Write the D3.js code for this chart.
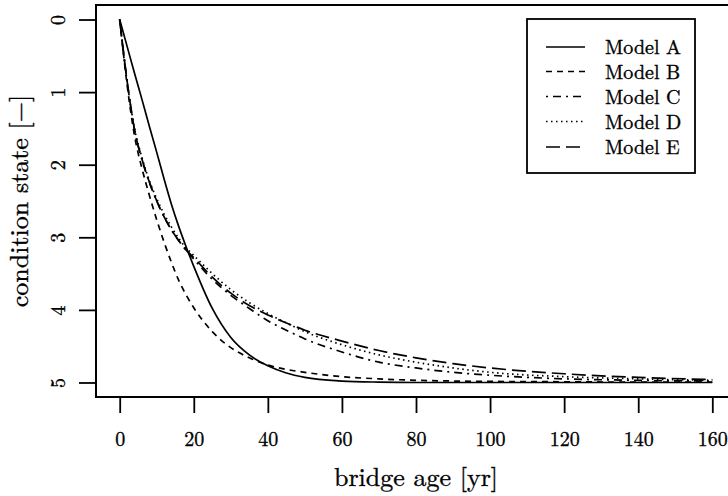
<!DOCTYPE html>
<html>
<head>
<meta charset="utf-8">
<script src="https://cdn.jsdelivr.net/npm/d3@7"></script>
<style>
  html, body { margin: 0; padding: 0; background: #fff; }
  svg { display: block; }
</style>
</head>
<body>
<svg id="chart" width="728" height="496" style="font-family: 'Latin Modern Roman', 'Liberation Serif', serif;"></svg>
<script>
// ---- data ----
const ages = [0, 2, 4, 6, 8, 10, 12, 14, 16, 18, 20, 25, 30, 35, 40, 45, 50, 60, 70, 80, 90, 100, 120, 140, 160];
const modelA = [0, 0.37, 0.74, 1.10, 1.47, 1.83, 2.20, 2.55, 2.86, 3.14, 3.40, 3.98, 4.38, 4.62, 4.77, 4.87, 4.93, 4.98, 4.995, 5.0, 5.0, 5.0, 5.0, 5.0, 5.0];
const modelB = [0, 0.90, 1.60, 2.05, 2.42, 2.76, 3.07, 3.35, 3.60, 3.80, 3.97, 4.30, 4.52, 4.66, 4.76, 4.82, 4.86, 4.92, 4.95, 4.97, 4.98, 4.985, 4.99, 4.995, 4.995];
const modelC = [0, 0.85, 1.52, 1.93, 2.24, 2.50, 2.72, 2.90, 3.05, 3.18, 3.30, 3.58, 3.80, 3.98, 4.15, 4.28, 4.40, 4.58, 4.72, 4.80, 4.86, 4.90, 4.95, 4.97, 4.98];
const modelD = [0, 0.85, 1.50, 1.90, 2.22, 2.47, 2.68, 2.86, 3.02, 3.15, 3.25, 3.50, 3.72, 3.90, 4.05, 4.18, 4.30, 4.48, 4.62, 4.72, 4.80, 4.86, 4.92, 4.95, 4.97];
const modelE = [0, 0.85, 1.52, 1.92, 2.24, 2.50, 2.72, 2.90, 3.05, 3.18, 3.28, 3.55, 3.77, 3.94, 4.07, 4.18, 4.28, 4.43, 4.56, 4.66, 4.74, 4.80, 4.88, 4.93, 4.96];
const seriesNames = ["Model A", "Model B", "Model C", "Model D", "Model E"];
const xTicks = [0, 20, 40, 60, 80, 100, 120, 140, 160];
const yTicks = [0, 1, 2, 3, 4, 5];
const xLabel = "bridge age [yr]";
const yLabel = "condition state [\u2212]";

// ---- styles ----
const FONT = "'Latin Modern Roman', 'Liberation Serif', serif";
const dashes = [null, "6,5", "2,5,8,5", "1.5,3.5", "14,6"];
const series = [modelA, modelB, modelC, modelD, modelE].map((vals, i) => ({
  name: seriesNames[i], dash: dashes[i],
  points: ages.map((a, j) => [a, vals[j]])
}));

const svg = d3.select("#chart");
const pL = 96, pR = 736, pT = 5, pB = 397;
const x = d3.scaleLinear().domain([-6.4, 166.4]).range([pL, pR]);
const y = d3.scaleLinear().domain([-0.2, 5.2]).range([pT, pB]);

function styleText(sel, size) {
  sel.style("font-size", size + "px").style("font-family", FONT)
    .attr("fill", "#000").attr("stroke", "#000").attr("stroke-width", 0.35);
}

// curves
const line = d3.line().x(d => x(d[0])).y(d => y(d[1])).curve(d3.curveMonotoneX);
svg.append("g").selectAll("path").data(series).join("path")
  .attr("d", d => line(d.points))
  .attr("fill", "none").attr("stroke", "#000").attr("stroke-width", 1.7)
  .attr("stroke-dasharray", d => d.dash);

// box
svg.append("rect").attr("x", pL).attr("y", pT)
  .attr("width", pR - pL).attr("height", pB - pT)
  .attr("fill", "none").attr("stroke", "#000").attr("stroke-width", 2);

// x axis
const gx = svg.append("g").attr("transform", `translate(0,${pB})`)
  .call(d3.axisBottom(x).tickValues(xTicks).tickSize(16).tickFormat(d3.format("d")));
gx.attr("font-family", null);
gx.select(".domain").remove();
gx.selectAll(".tick line").attr("stroke-width", 1.8);
gx.selectAll(".tick text").attr("y", 49).attr("dy", null).call(styleText, 20);

// y axis
const gy = svg.append("g").attr("transform", `translate(${pL},0)`)
  .call(d3.axisLeft(y).tickValues(yTicks).tickSize(17).tickFormat(d3.format("d")));
gy.attr("font-family", null);
gy.select(".domain").remove();
gy.selectAll(".tick line").attr("stroke-width", 1.8);
gy.selectAll(".tick text").attr("x", null).attr("dy", null)
  .attr("text-anchor", "middle")
  .attr("transform", "translate(-31,0) rotate(-90)")
  .call(styleText, 20);

// axis titles
svg.append("text").attr("x", (pL + pR) / 2).attr("y", 486)
  .attr("text-anchor", "middle").call(styleText, 26).text(xLabel);
svg.append("text").attr("transform", `translate(28,${(pT + pB) / 2}) rotate(-90)`)
  .attr("text-anchor", "middle").call(styleText, 26).text(yLabel);

// legend
const lg = svg.append("g");
lg.append("rect").attr("x", 527).attr("y", 19).attr("width", 168).attr("height", 154)
  .attr("fill", "#fff").attr("stroke", "#000").attr("stroke-width", 1.8);
const rowY = [47, 71.5, 96.5, 121.5, 147];
series.forEach((s, i) => {
  lg.append("line").attr("x1", 546).attr("x2", 585).attr("y1", rowY[i]).attr("y2", rowY[i])
    .attr("stroke", "#000").attr("stroke-width", 1.7).attr("stroke-dasharray", s.dash);
  lg.append("text").attr("x", 605).attr("y", rowY[i] + 7).call(styleText, 20).text(s.name);
});
</script>
</body>
</html>
